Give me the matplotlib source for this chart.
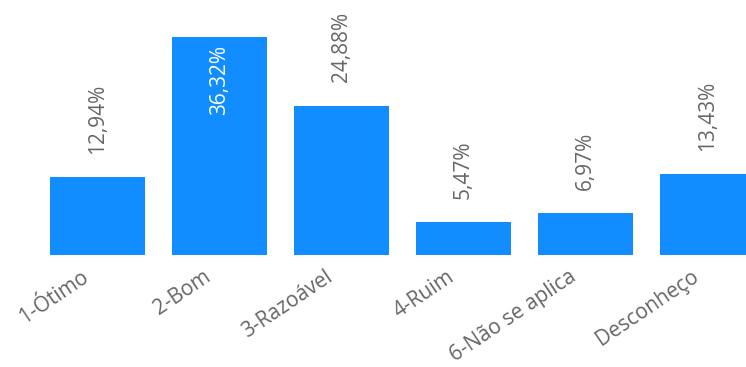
import matplotlib
matplotlib.use("Agg")
import matplotlib.pyplot as plt
import matplotlib.transforms as mtransforms

categories = ["1-Ótimo", "2-Bom", "3-Razoável", "4-Ruim", "6-Não se aplica", "Desconheço"]
values = [12.94, 36.32, 24.88, 5.47, 6.97, 13.43]
labels = ["12,94%", "36,32%", "24,88%", "5,47%", "6,97%", "13,43%"]

BAR_COLOR = "#118DFF"
TEXT_COLOR = "#666666"
FONT = ["Open Sans", "DejaVu Sans"]

fig = plt.figure(figsize=(7.46, 3.67), dpi=100)
ax = fig.add_axes([0, 112 / 367, 1, 255 / 367])

x = list(range(len(categories)))
ax.bar(x, values, width=0.78, color=BAR_COLOR)
ax.set_xlim(-0.799, 5.316)
ax.set_ylim(0, 42.5)

# data labels: inside the tallest bar, above the others
top = max(values)
for xi, v, lab in zip(x, values, labels):
    if v == top:
        ax.annotate(lab, (xi, v), xytext=(0, -6), textcoords="offset points",
                    rotation=90, ha="center", va="top", color="white",
                    fontsize=15, family=FONT)
    else:
        ax.annotate(lab, (xi, v), xytext=(0, 17), textcoords="offset points",
                    rotation=90, ha="center", va="bottom", color=TEXT_COLOR,
                    fontsize=15, family=FONT)

ax.set_xticks(x)
ax.set_xticklabels(categories, rotation=34, ha="right", rotation_mode="anchor",
                   color=TEXT_COLOR, fontsize=15, family=FONT)
ax.tick_params(axis="x", length=0, pad=8)
offset = mtransforms.ScaledTranslation(-17 / 100, 0, fig.dpi_scale_trans)
for t in ax.get_xticklabels():
    t.set_transform(t.get_transform() + offset)

ax.set_yticks([])
for s in ax.spines.values():
    s.set_visible(False)

fig.savefig("out.png", dpi=100)
